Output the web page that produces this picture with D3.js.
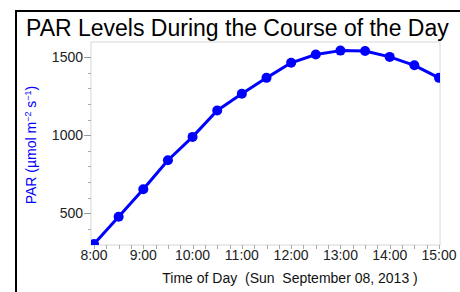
<!DOCTYPE html>
<html>
<head>
<meta charset="utf-8">
<script src="https://cdn.jsdelivr.net/npm/d3@7"></script>
<style>
  body { margin: 0; background: #fff; }
  svg { font-family: "Liberation Sans", Arial, sans-serif; }
</style>
</head>
<body>
<svg id="chart" width="460" height="292"></svg>
<script>
// readings, every half hour
let times = ['8:00','8:30','9:00','9:30','10:00','10:30','11:00','11:30','12:00','12:30','13:00','13:30','14:00','14:30','15:00'];
let parValues = [305, 479, 655, 840, 989, 1157, 1264, 1366, 1462, 1515, 1540, 1537, 1500, 1446, 1366];
let yTicks = [500, 1000, 1500];
let xTickHours = ['8:00','9:00','10:00','11:00','12:00','13:00','14:00','15:00'];

let svg = d3.select('#chart');
let parseTime = d3.timeParse('%Y-%m-%d %H:%M');
let day = '2013-09-08 ';

let data = times.map((t, i) => ({ time: parseTime(day + t), value: parValues[i] }));

let plotLeft = 91, plotRight = 440, plotTop = 42, plotBottom = 245;

let x = d3.scaleTime()
    .domain([parseTime(day + '8:00'), parseTime(day + '15:00')])
    .range([94, 439]);
let y = d3.scaleLinear()
    .domain([305, 1595])
    .range([plotBottom - 1, plotTop]);

// outer frame
svg.append('path')
   .attr('d', `M16,300 L16,11 L470,11`)
   .attr('fill', 'none')
   .attr('stroke', '#000')
   .attr('stroke-width', 2);

// title
svg.append('text')
   .attr('x', 26).attr('y', 36)
   .style('font-size', '23px')
   .attr('fill', '#000')
   .text('PAR Levels During the Course of the Day');

// plot frame
svg.append('rect')
   .attr('x', plotLeft).attr('y', plotTop)
   .attr('width', plotRight - plotLeft).attr('height', plotBottom - plotTop)
   .attr('fill', 'none')
   .attr('stroke', '#d8d8d8');

// y minor ticks
let yMinor = d3.range(400, 1600, 100);
svg.selectAll('.y-minor').data(yMinor).join('line')
   .attr('x1', plotLeft - 3).attr('x2', plotLeft)
   .attr('y1', d => Math.round(y(d)) + 0.5).attr('y2', d => Math.round(y(d)) + 0.5)
   .attr('stroke', '#aaa');
svg.selectAll('.y-major').data(yTicks).join('line')
   .attr('x1', plotLeft - 7).attr('x2', plotLeft)
   .attr('y1', d => Math.round(y(d)) + 0.5).attr('y2', d => Math.round(y(d)) + 0.5)
   .attr('stroke', '#999');
svg.selectAll('.y-label').data(yTicks).join('text')
   .attr('x', plotLeft - 8).attr('y', d => y(d))
   .attr('dy', '0.35em')
   .attr('text-anchor', 'end')
   .style('font-size', '14px')
   .attr('fill', '#222')
   .text(d => d);

// x ticks every 15 min
let xMinor = d3.timeMinute.every(15).range(x.domain()[0], new Date(+x.domain()[1] + 1));
svg.selectAll('.x-minor').data(xMinor).join('line')
   .attr('x1', d => Math.round(x(d)) + 0.5).attr('x2', d => Math.round(x(d)) + 0.5)
   .attr('y1', plotBottom).attr('y2', plotBottom + 4)
   .attr('stroke', '#aaa');
svg.selectAll('.x-label').data(xTickHours).join('text')
   .attr('x', d => x(parseTime(day + d)))
   .attr('y', 260)
   .attr('text-anchor', 'middle')
   .style('font-size', '14px')
   .attr('fill', '#222')
   .text(d => d);

// axis titles
svg.append('text')
   .attr('x', 290).attr('y', 283)
   .attr('text-anchor', 'middle')
   .style('font-size', '14px')
   .attr('fill', '#111')
   .attr('xml:space', 'preserve')
   .text('Time of Day  (Sun  September 08, 2013 )');

let yTitle = svg.append('text')
   .attr('transform', 'translate(36,145) rotate(-90)')
   .attr('text-anchor', 'middle')
   .style('font-size', '14px')
   .attr('fill', '#0000ff');
yTitle.append('tspan').text('PAR (µmol m');
yTitle.append('tspan').attr('dy', -5).style('font-size', '9px').text('−2');
yTitle.append('tspan').attr('dy', 5).text(' s');
yTitle.append('tspan').attr('dy', -5).style('font-size', '9px').text('−1');
yTitle.append('tspan').attr('dy', 5).text(')');

// clip
svg.append('clipPath').attr('id', 'plot-clip')
   .append('rect')
   .attr('x', plotLeft).attr('y', plotTop)
   .attr('width', plotRight - plotLeft).attr('height', plotBottom - plotTop);

let plot = svg.append('g').attr('clip-path', 'url(#plot-clip)');

let line = d3.line()
    .x(d => x(d.time))
    .y(d => y(d.value));

plot.append('path')
    .datum(data)
    .attr('d', line)
    .attr('fill', 'none')
    .attr('stroke', '#0000ff')
    .attr('stroke-width', 3)
    .attr('stroke-linejoin', 'round');

plot.selectAll('.point').data(data).join('circle')
    .attr('cx', d => x(d.time))
    .attr('cy', d => y(d.value))
    .attr('r', 5)
    .attr('fill', '#0000ff');
</script>
</body>
</html>
